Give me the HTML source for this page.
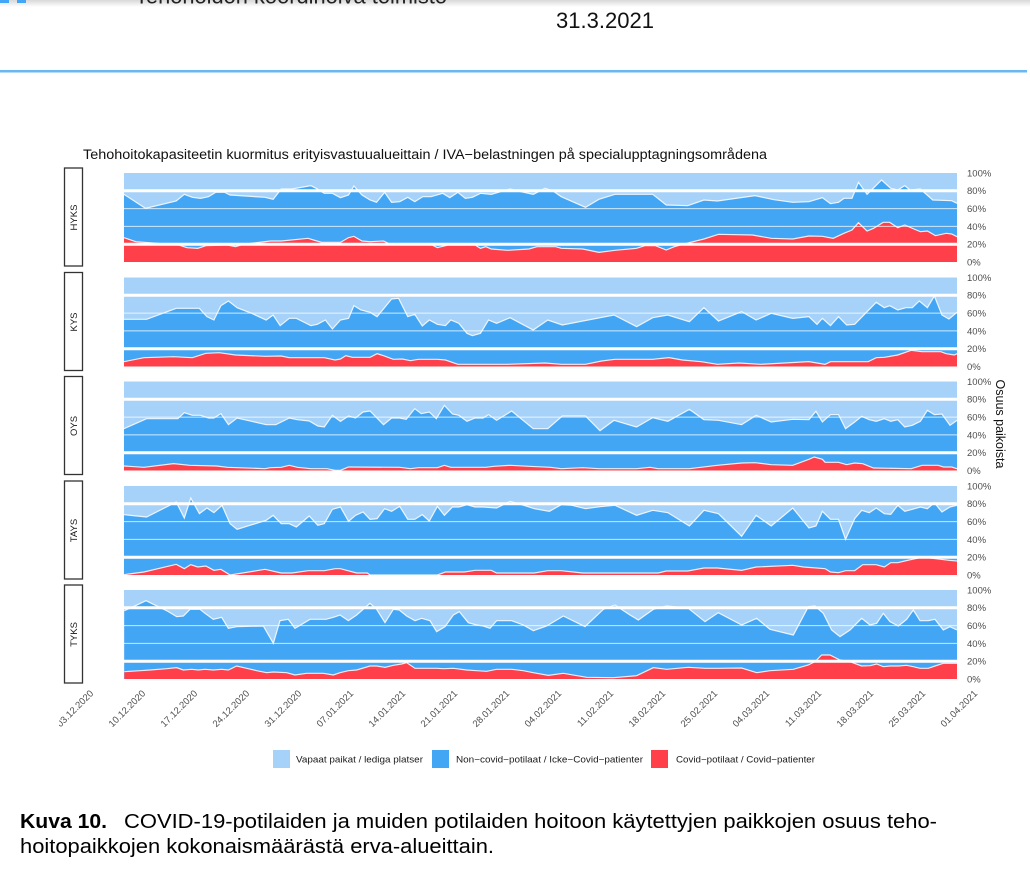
<!DOCTYPE html>
<html><head><meta charset="utf-8"><style>
html,body{margin:0;padding:0;background:#fff;width:1030px;height:873px;overflow:hidden}
svg{display:block}
text{font-family:"Liberation Sans",Arial,sans-serif}
</style></head><body>
<svg width="1030" height="873" viewBox="0 0 1030 873" xmlns="http://www.w3.org/2000/svg">
<defs>
<linearGradient id="sh" x1="0" y1="0" x2="0" y2="1"><stop offset="0" stop-color="#d8d8d8"/><stop offset="1" stop-color="#ffffff"/></linearGradient>
<clipPath id="xl"><rect x="59" y="670" width="1000" height="80"/></clipPath>
</defs>
<rect width="1030" height="873" fill="#fff"/>
<rect x="0" y="0" width="1030" height="7" fill="url(#sh)"/>
<rect x="0" y="0" width="9" height="3" fill="#42a5f5"/><rect x="17" y="0" width="9" height="3" fill="#42a5f5"/>
<text x="135" y="3.5" font-size="22" fill="#222" textLength="312" lengthAdjust="spacingAndGlyphs">Tehohoidon koordinoiva toimisto</text>
<text x="556" y="28" font-size="22" fill="#111" textLength="98" lengthAdjust="spacingAndGlyphs">31.3.2021</text>
<rect x="0" y="70" width="1027" height="2.5" fill="#6ab7f2"/>

<text x="83" y="159" font-size="13.5" fill="#111" textLength="684" lengthAdjust="spacingAndGlyphs">Tehohoitokapasiteetin kuormitus erityisvastuualueittain / IVA−belastningen på specialupptagningsområdena</text>

<g fill="#a6d2fa">
<rect x="124" y="173" width="833" height="89"/>
<rect x="124" y="277.5" width="833" height="89"/>
<rect x="124" y="381.5" width="833" height="89"/>
<rect x="124" y="486" width="833" height="89"/>
<rect x="124" y="590" width="833" height="89"/>
</g>

<g transform="matrix(0.53846,0,0,0.33333,119.69,165)">
<path fill="#42a6f5" d="M8,291 L8,88 48,130 105,108 120,88 135,97 150,100 165,95 178,82 195,82 205,90 270,97 285,103 300,72 320,72 355,62 365,70 380,85 395,85 410,98 425,90 435,63 450,90 465,105 477,112 492,82 505,112 520,110 535,97 548,110 563,95 578,95 600,85 613,98 628,82 642,100 655,97 670,85 690,88 725,72 740,78 768,88 790,70 805,78 820,95 865,127 890,103 920,88 990,88 1015,120 1055,122 1085,105 1110,108 1180,92 1215,104 1250,112 1280,110 1305,98 1320,116 1335,112 1345,100 1360,100 1372,52 1388,88 1415,45 1432,70 1445,75 1458,62 1468,75 1487,72 1510,105 1545,107 1555,115 L1555,291 Z"/>
<path fill="#ff404a" d="M8,291 L8,218 30,230 110,240 125,248 145,250 160,242 200,240 215,245 230,238 280,228 300,228 350,220 360,225 375,232 410,232 425,218 435,214 450,228 465,230 490,228 500,236 580,240 590,248 610,240 660,240 670,250 680,245 690,252 720,256 760,252 775,245 810,245 820,250 860,252 890,262 920,256 960,250 975,242 995,242 1015,255 1030,245 1060,232 1085,222 1112,208 1175,210 1210,220 1250,222 1280,213 1305,214 1325,220 1345,205 1360,195 1372,173 1388,198 1400,190 1418,172 1430,172 1445,188 1458,180 1475,192 1487,200 1500,198 1515,212 1535,205 1545,207 1555,215 L1555,291 Z"/>
<path fill="#42a6f5" d="M8,604.5 L8,463 50,463 105,430 148,430 162,455 175,465 188,422 202,408 218,428 245,445 272,465 285,450 298,482 315,460 328,460 355,482 367,478 382,465 395,492 410,465 425,460 435,422 448,435 465,442 478,455 505,402 518,400 535,455 548,448 562,483 575,465 590,478 605,482 615,465 630,475 645,505 655,512 670,505 685,465 700,475 725,458 768,495 795,465 822,480 918,450 960,485 990,458 1018,450 1058,470 1085,428 1112,468 1155,440 1182,465 1210,445 1250,460 1280,455 1295,478 1305,460 1320,482 1335,455 1350,480 1365,478 1405,412 1420,428 1430,422 1445,435 1460,428 1472,428 1485,408 1500,428 1513,393 1527,450 1540,462 1555,442 L1555,604.5 Z"/>
<path fill="#ff404a" d="M8,604.5 L8,590 45,578 100,575 135,578 160,565 185,563 215,570 270,574 300,573 315,578 380,578 400,585 410,582 420,572 432,577 465,577 478,566 490,572 508,583 525,582 540,587 555,583 590,583 605,585 628,598 720,598 790,594 820,598 865,598 895,588 920,583 990,583 1020,578 1045,585 1080,590 1110,598 1150,594 1190,598 1280,590 1310,598 1320,590 1390,590 1405,578 1420,577 1445,570 1470,556 1490,560 1525,560 1535,566 1550,570 1555,566 L1555,604.5 Z"/>
<g fill="none" stroke="#fff" stroke-width="1.2" stroke-opacity="0.85">
<polyline vector-effect="non-scaling-stroke" points="8,88 48,130 105,108 120,88 135,97 150,100 165,95 178,82 195,82 205,90 270,97 285,103 300,72 320,72 355,62 365,70 380,85 395,85 410,98 425,90 435,63 450,90 465,105 477,112 492,82 505,112 520,110 535,97 548,110 563,95 578,95 600,85 613,98 628,82 642,100 655,97 670,85 690,88 725,72 740,78 768,88 790,70 805,78 820,95 865,127 890,103 920,88 990,88 1015,120 1055,122 1085,105 1110,108 1180,92 1215,104 1250,112 1280,110 1305,98 1320,116 1335,112 1345,100 1360,100 1372,52 1388,88 1415,45 1432,70 1445,75 1458,62 1468,75 1487,72 1510,105 1545,107 1555,115"/>
<polyline vector-effect="non-scaling-stroke" points="8,218 30,230 110,240 125,248 145,250 160,242 200,240 215,245 230,238 280,228 300,228 350,220 360,225 375,232 410,232 425,218 435,214 450,228 465,230 490,228 500,236 580,240 590,248 610,240 660,240 670,250 680,245 690,252 720,256 760,252 775,245 810,245 820,250 860,252 890,262 920,256 960,250 975,242 995,242 1015,255 1030,245 1060,232 1085,222 1112,208 1175,210 1210,220 1250,222 1280,213 1305,214 1325,220 1345,205 1360,195 1372,173 1388,198 1400,190 1418,172 1430,172 1445,188 1458,180 1475,192 1487,200 1500,198 1515,212 1535,205 1545,207 1555,215"/>
<polyline vector-effect="non-scaling-stroke" points="8,463 50,463 105,430 148,430 162,455 175,465 188,422 202,408 218,428 245,445 272,465 285,450 298,482 315,460 328,460 355,482 367,478 382,465 395,492 410,465 425,460 435,422 448,435 465,442 478,455 505,402 518,400 535,455 548,448 562,483 575,465 590,478 605,482 615,465 630,475 645,505 655,512 670,505 685,465 700,475 725,458 768,495 795,465 822,480 918,450 960,485 990,458 1018,450 1058,470 1085,428 1112,468 1155,440 1182,465 1210,445 1250,460 1280,455 1295,478 1305,460 1320,482 1335,455 1350,480 1365,478 1405,412 1420,428 1430,422 1445,435 1460,428 1472,428 1485,408 1500,428 1513,393 1527,450 1540,462 1555,442"/>
<polyline vector-effect="non-scaling-stroke" points="8,590 45,578 100,575 135,578 160,565 185,563 215,570 270,574 300,573 315,578 380,578 400,585 410,582 420,572 432,577 465,577 478,566 490,572 508,583 525,582 540,587 555,583 590,583 605,585 628,598 720,598 790,594 820,598 865,598 895,588 920,583 990,583 1020,578 1045,585 1080,590 1110,598 1150,594 1190,598 1280,590 1310,598 1320,590 1390,590 1405,578 1420,577 1445,570 1470,556 1490,560 1525,560 1535,566 1550,570 1555,566"/>
</g>
</g>

<g transform="matrix(0.53846,0,0,0.33333,119.69,372)">
<path fill="#42a6f5" d="M8,295.5 L8,170 50,140 108,140 120,122 135,130 150,130 165,138 175,138 188,125 202,158 218,138 245,148 272,158 290,158 315,138 330,143 352,147 368,162 380,165 395,130 410,148 425,132 438,138 452,120 465,117 490,158 505,138 520,138 532,142 548,110 560,125 575,120 588,140 603,100 618,126 630,130 645,148 660,138 675,138 685,128 700,145 728,117 768,170 795,170 822,132 865,132 892,176 918,145 960,165 990,137 1018,148 1058,112 1085,143 1112,145 1155,158 1182,130 1210,150 1250,142 1280,143 1293,118 1305,150 1320,128 1335,128 1348,170 1365,150 1378,133 1392,143 1405,148 1420,140 1432,148 1445,143 1458,165 1472,160 1487,148 1500,115 1513,128 1527,126 1542,160 1555,145 L1555,295.5 Z"/>
<path fill="#ff404a" d="M8,295.5 L8,282 45,286 100,275 130,280 180,282 200,286 270,290 280,287 300,286 315,280 330,286 355,290 385,290 400,295 410,295 425,285 520,286 540,290 555,287 590,287 603,280 615,286 680,286 695,283 725,280 760,283 800,286 820,290 860,287 890,290 960,290 985,286 1000,290 1058,290 1110,280 1155,273 1180,272 1210,278 1250,280 1280,262 1290,255 1305,262 1310,271 1335,271 1350,278 1365,273 1380,275 1400,288 1470,290 1490,280 1520,280 1530,285 1545,285 1555,290 L1555,295.5 Z"/>
<path fill="#42a6f5" d="M8,609 L8,428 50,435 105,390 120,438 132,378 148,425 162,408 175,422 190,400 205,455 218,472 272,445 285,430 300,455 315,455 328,465 352,432 368,460 380,455 395,412 410,405 425,448 438,430 452,420 465,442 478,440 492,410 505,418 520,403 535,442 548,442 562,428 575,447 590,403 603,430 618,405 630,405 645,398 660,405 675,405 700,408 725,388 755,402 770,410 798,418 820,398 840,400 865,410 892,404 920,400 960,430 990,415 1018,422 1058,462 1085,415 1112,425 1155,493 1182,430 1210,462 1250,408 1280,468 1293,462 1305,418 1320,442 1335,442 1348,502 1365,440 1378,415 1392,422 1405,408 1420,425 1432,427 1445,400 1458,418 1472,412 1487,405 1500,410 1513,392 1527,420 1542,405 1555,400 L1555,609 Z"/>
<path fill="#ff404a" d="M8,609 L8,608 45,600 105,577 120,590 132,578 145,585 160,582 175,595 188,592 205,609 270,592 300,603 320,603 350,596 380,596 400,590 410,590 440,603 460,603 465,609 590,609 605,600 640,600 660,595 690,595 700,603 770,603 795,596 820,596 860,603 1000,603 1015,597 1055,597 1085,588 1110,588 1155,595 1182,585 1250,580 1270,585 1310,590 1320,600 1335,602 1348,596 1365,596 1380,578 1405,578 1420,585 1432,572 1445,572 1458,567 1472,562 1487,557 1500,557 1540,565 1555,567 L1555,609 Z"/>
<g fill="none" stroke="#fff" stroke-width="1.2" stroke-opacity="0.85">
<polyline vector-effect="non-scaling-stroke" points="8,170 50,140 108,140 120,122 135,130 150,130 165,138 175,138 188,125 202,158 218,138 245,148 272,158 290,158 315,138 330,143 352,147 368,162 380,165 395,130 410,148 425,132 438,138 452,120 465,117 490,158 505,138 520,138 532,142 548,110 560,125 575,120 588,140 603,100 618,126 630,130 645,148 660,138 675,138 685,128 700,145 728,117 768,170 795,170 822,132 865,132 892,176 918,145 960,165 990,137 1018,148 1058,112 1085,143 1112,145 1155,158 1182,130 1210,150 1250,142 1280,143 1293,118 1305,150 1320,128 1335,128 1348,170 1365,150 1378,133 1392,143 1405,148 1420,140 1432,148 1445,143 1458,165 1472,160 1487,148 1500,115 1513,128 1527,126 1542,160 1555,145"/>
<polyline vector-effect="non-scaling-stroke" points="8,282 45,286 100,275 130,280 180,282 200,286 270,290 280,287 300,286 315,280 330,286 355,290 385,290 400,295 410,295 425,285 520,286 540,290 555,287 590,287 603,280 615,286 680,286 695,283 725,280 760,283 800,286 820,290 860,287 890,290 960,290 985,286 1000,290 1058,290 1110,280 1155,273 1180,272 1210,278 1250,280 1280,262 1290,255 1305,262 1310,271 1335,271 1350,278 1365,273 1380,275 1400,288 1470,290 1490,280 1520,280 1530,285 1545,285 1555,290"/>
<polyline vector-effect="non-scaling-stroke" points="8,428 50,435 105,390 120,438 132,378 148,425 162,408 175,422 190,400 205,455 218,472 272,445 285,430 300,455 315,455 328,465 352,432 368,460 380,455 395,412 410,405 425,448 438,430 452,420 465,442 478,440 492,410 505,418 520,403 535,442 548,442 562,428 575,447 590,403 603,430 618,405 630,405 645,398 660,405 675,405 700,408 725,388 755,402 770,410 798,418 820,398 840,400 865,410 892,404 920,400 960,430 990,415 1018,422 1058,462 1085,415 1112,425 1155,493 1182,430 1210,462 1250,408 1280,468 1293,462 1305,418 1320,442 1335,442 1348,502 1365,440 1378,415 1392,422 1405,408 1420,425 1432,427 1445,400 1458,418 1472,412 1487,405 1500,410 1513,392 1527,420 1542,405 1555,400"/>
<polyline vector-effect="non-scaling-stroke" points="8,608 45,600 105,577 120,590 132,578 145,585 160,582 175,595 188,592 205,609 270,592 300,603 320,603 350,596 380,596 400,590 410,590 440,603 460,603 465,609 590,609 605,600 640,600 660,595 690,595 700,603 770,603 795,596 820,596 860,603 1000,603 1015,597 1055,597 1085,588 1110,588 1155,595 1182,585 1250,580 1270,585 1310,590 1320,600 1335,602 1348,596 1365,596 1380,578 1405,578 1420,585 1432,572 1445,572 1458,567 1472,562 1487,557 1500,557 1540,565 1555,567"/>
</g>
</g>

<g transform="matrix(0.33333,0,0,0.33333,40,580)">
<path fill="#42a6f5" d="M253,297 L253,92 280,80 318,62 355,80 380,92 410,110 430,108 450,88 480,88 495,100 520,118 545,112 565,145 590,140 670,138 700,190 720,122 745,118 765,145 810,118 858,118 880,112 900,105 925,122 950,105 990,70 1010,88 1035,128 1060,88 1078,90 1100,108 1125,122 1145,115 1170,122 1190,155 1215,140 1240,105 1258,95 1285,128 1310,135 1330,138 1350,145 1370,122 1415,122 1450,135 1480,152 1520,138 1570,108 1635,140 1690,88 1725,75 1740,85 1770,105 1795,120 1840,88 1880,78 1945,85 1995,125 2035,98 2105,135 2150,115 2190,148 2260,165 2305,80 2325,78 2350,100 2375,150 2400,170 2430,150 2465,115 2490,135 2510,130 2530,100 2550,125 2575,138 2600,118 2620,90 2640,122 2665,122 2685,118 2710,150 2730,140 2751,150 L2751,297 Z"/>
<path fill="#ff404a" d="M253,297 L253,275 300,272 330,270 380,266 410,263 430,270 455,268 475,270 495,268 520,270 545,268 565,270 590,258 620,265 650,272 680,278 700,276 740,278 765,285 800,280 850,280 880,285 900,278 925,272 950,270 990,258 1010,258 1035,262 1060,256 1085,252 1100,248 1125,265 1190,265 1210,266 1240,265 1280,270 1310,272 1340,274 1370,268 1415,268 1450,272 1480,278 1525,286 1570,280 1640,292 1720,293 1790,287 1840,263 1880,268 1945,262 1995,265 2035,265 2105,264 2150,278 2190,272 2260,268 2305,255 2325,245 2345,225 2370,225 2400,240 2430,245 2465,258 2490,257 2510,252 2530,260 2550,258 2575,258 2600,256 2620,260 2640,265 2665,265 2685,258 2710,250 2730,250 2751,250 L2751,297 Z"/>
<g fill="none" stroke="#fff" stroke-width="1.2" stroke-opacity="0.85">
<polyline vector-effect="non-scaling-stroke" points="253,92 280,80 318,62 355,80 380,92 410,110 430,108 450,88 480,88 495,100 520,118 545,112 565,145 590,140 670,138 700,190 720,122 745,118 765,145 810,118 858,118 880,112 900,105 925,122 950,105 990,70 1010,88 1035,128 1060,88 1078,90 1100,108 1125,122 1145,115 1170,122 1190,155 1215,140 1240,105 1258,95 1285,128 1310,135 1330,138 1350,145 1370,122 1415,122 1450,135 1480,152 1520,138 1570,108 1635,140 1690,88 1725,75 1740,85 1770,105 1795,120 1840,88 1880,78 1945,85 1995,125 2035,98 2105,135 2150,115 2190,148 2260,165 2305,80 2325,78 2350,100 2375,150 2400,170 2430,150 2465,115 2490,135 2510,130 2530,100 2550,125 2575,138 2600,118 2620,90 2640,122 2665,122 2685,118 2710,150 2730,140 2751,150"/>
<polyline vector-effect="non-scaling-stroke" points="253,275 300,272 330,270 380,266 410,263 430,270 455,268 475,270 495,268 520,270 545,268 565,270 590,258 620,265 650,272 680,278 700,276 740,278 765,285 800,280 850,280 880,285 900,278 925,272 950,270 990,258 1010,258 1035,262 1060,256 1085,252 1100,248 1125,265 1190,265 1210,266 1240,265 1280,270 1310,272 1340,274 1370,268 1415,268 1450,272 1480,278 1525,286 1570,280 1640,292 1720,293 1790,287 1840,263 1880,268 1945,262 1995,265 2035,265 2105,264 2150,278 2190,272 2260,268 2305,255 2325,245 2345,225 2370,225 2400,240 2430,245 2465,258 2490,257 2510,252 2530,260 2550,258 2575,258 2600,256 2620,260 2640,265 2665,265 2685,258 2710,250 2730,250 2751,250"/>
</g>
</g>

<g stroke="#fff" stroke-width="1" stroke-opacity="0.75">
<line x1="124" x2="957" y1="208.6" y2="208.6"/><line x1="124" x2="957" y1="226.4" y2="226.4"/>
<line x1="124" x2="957" y1="313.1" y2="313.1"/><line x1="124" x2="957" y1="330.9" y2="330.9"/>
<line x1="124" x2="957" y1="417.1" y2="417.1"/><line x1="124" x2="957" y1="434.9" y2="434.9"/>
<line x1="124" x2="957" y1="521.6" y2="521.6"/><line x1="124" x2="957" y1="539.4" y2="539.4"/>
<line x1="124" x2="957" y1="625.6" y2="625.6"/><line x1="124" x2="957" y1="643.4" y2="643.4"/>
</g>
<g stroke="#fff" stroke-width="3">
<line x1="124" x2="957" y1="190.8" y2="190.8"/><line x1="124" x2="957" y1="244.2" y2="244.2"/>
<line x1="124" x2="957" y1="295.3" y2="295.3"/><line x1="124" x2="957" y1="348.7" y2="348.7"/>
<line x1="124" x2="957" y1="399.3" y2="399.3"/><line x1="124" x2="957" y1="452.7" y2="452.7"/>
<line x1="124" x2="957" y1="503.8" y2="503.8"/><line x1="124" x2="957" y1="557.2" y2="557.2"/>
<line x1="124" x2="957" y1="607.8" y2="607.8"/><line x1="124" x2="957" y1="661.2" y2="661.2"/>
</g>

<g fill="#fff" stroke="#333" stroke-width="1.3">
<rect x="64.5" y="168" width="18" height="98"/>
<rect x="64.5" y="272.5" width="18" height="98"/>
<rect x="64.5" y="376.5" width="18" height="98"/>
<rect x="64.5" y="481" width="18" height="98"/>
<rect x="64.5" y="585" width="18" height="98"/>
</g>
<g font-size="9.5" fill="#1a1a1a" text-anchor="middle">
<text transform="translate(77,217.5) rotate(-90)">HYKS</text>
<text transform="translate(77,322) rotate(-90)">KYS</text>
<text transform="translate(77,426) rotate(-90)">OYS</text>
<text transform="translate(77,530.5) rotate(-90)">TAYS</text>
<text transform="translate(77,634.5) rotate(-90)">TYKS</text>
</g>

<g font-size="9.5" fill="#4d4d4d">
<text x="967" y="176.4">100%</text><text x="967" y="194.2">80%</text><text x="967" y="212">60%</text><text x="967" y="229.8">40%</text><text x="967" y="247.6">20%</text><text x="967" y="265.4">0%</text>
<text x="967" y="280.9">100%</text><text x="967" y="298.7">80%</text><text x="967" y="316.5">60%</text><text x="967" y="334.3">40%</text><text x="967" y="352.1">20%</text><text x="967" y="369.9">0%</text>
<text x="967" y="384.9">100%</text><text x="967" y="402.7">80%</text><text x="967" y="420.5">60%</text><text x="967" y="438.3">40%</text><text x="967" y="456.1">20%</text><text x="967" y="473.9">0%</text>
<text x="967" y="489.4">100%</text><text x="967" y="507.2">80%</text><text x="967" y="525">60%</text><text x="967" y="542.8">40%</text><text x="967" y="560.6">20%</text><text x="967" y="578.4">0%</text>
<text x="967" y="593.4">100%</text><text x="967" y="611.2">80%</text><text x="967" y="629">60%</text><text x="967" y="646.8">40%</text><text x="967" y="664.6">20%</text><text x="967" y="682.4">0%</text>
</g>
<text transform="translate(996,424) rotate(90)" font-size="12.5" fill="#111" text-anchor="middle">Osuus paikoista</text>

<g font-size="9.5" fill="#4d4d4d" text-anchor="end" clip-path="url(#xl)">
<text transform="translate(94,694) rotate(-45)">03.12.2020</text>
<text transform="translate(146,694) rotate(-45)">10.12.2020</text>
<text transform="translate(198,694) rotate(-45)">17.12.2020</text>
<text transform="translate(250,694) rotate(-45)">24.12.2020</text>
<text transform="translate(302,694) rotate(-45)">31.12.2020</text>
<text transform="translate(354,694) rotate(-45)">07.01.2021</text>
<text transform="translate(406,694) rotate(-45)">14.01.2021</text>
<text transform="translate(458,694) rotate(-45)">21.01.2021</text>
<text transform="translate(510,694) rotate(-45)">28.01.2021</text>
<text transform="translate(562,694) rotate(-45)">04.02.2021</text>
<text transform="translate(614,694) rotate(-45)">11.02.2021</text>
<text transform="translate(666,694) rotate(-45)">18.02.2021</text>
<text transform="translate(718,694) rotate(-45)">25.02.2021</text>
<text transform="translate(770,694) rotate(-45)">04.03.2021</text>
<text transform="translate(822,694) rotate(-45)">11.03.2021</text>
<text transform="translate(874,694) rotate(-45)">18.03.2021</text>
<text transform="translate(926,694) rotate(-45)">25.03.2021</text>
<text transform="translate(978,694) rotate(-45)">01.04.2021</text>
</g>

<rect x="273" y="750" width="17" height="18" fill="#a6d2fa"/>
<text x="296" y="762.5" font-size="9" fill="#1a1a1a" textLength="127" lengthAdjust="spacingAndGlyphs">Vapaat paikat / lediga platser</text>
<rect x="432" y="750" width="17" height="18" fill="#42a6f5"/>
<text x="456" y="762.5" font-size="9" fill="#1a1a1a" textLength="187" lengthAdjust="spacingAndGlyphs">Non−covid−potilaat / Icke−Covid−patienter</text>
<rect x="651" y="750" width="17" height="18" fill="#ff404a"/>
<text x="676" y="762.5" font-size="9" fill="#1a1a1a" textLength="139" lengthAdjust="spacingAndGlyphs">Covid−potilaat / Covid−patienter</text>

<text x="20" y="828" font-size="20" font-weight="bold" fill="#000" textLength="87" lengthAdjust="spacingAndGlyphs">Kuva 10.</text>
<text x="124" y="828" font-size="20" fill="#000" textLength="813" lengthAdjust="spacingAndGlyphs">COVID-19-potilaiden ja muiden potilaiden hoitoon käytettyjen paikkojen osuus teho-</text>
<text x="20" y="853" font-size="20" fill="#000" textLength="474" lengthAdjust="spacingAndGlyphs">hoitopaikkojen kokonaismäärästä erva-alueittain.</text>
</svg>
</body></html>
